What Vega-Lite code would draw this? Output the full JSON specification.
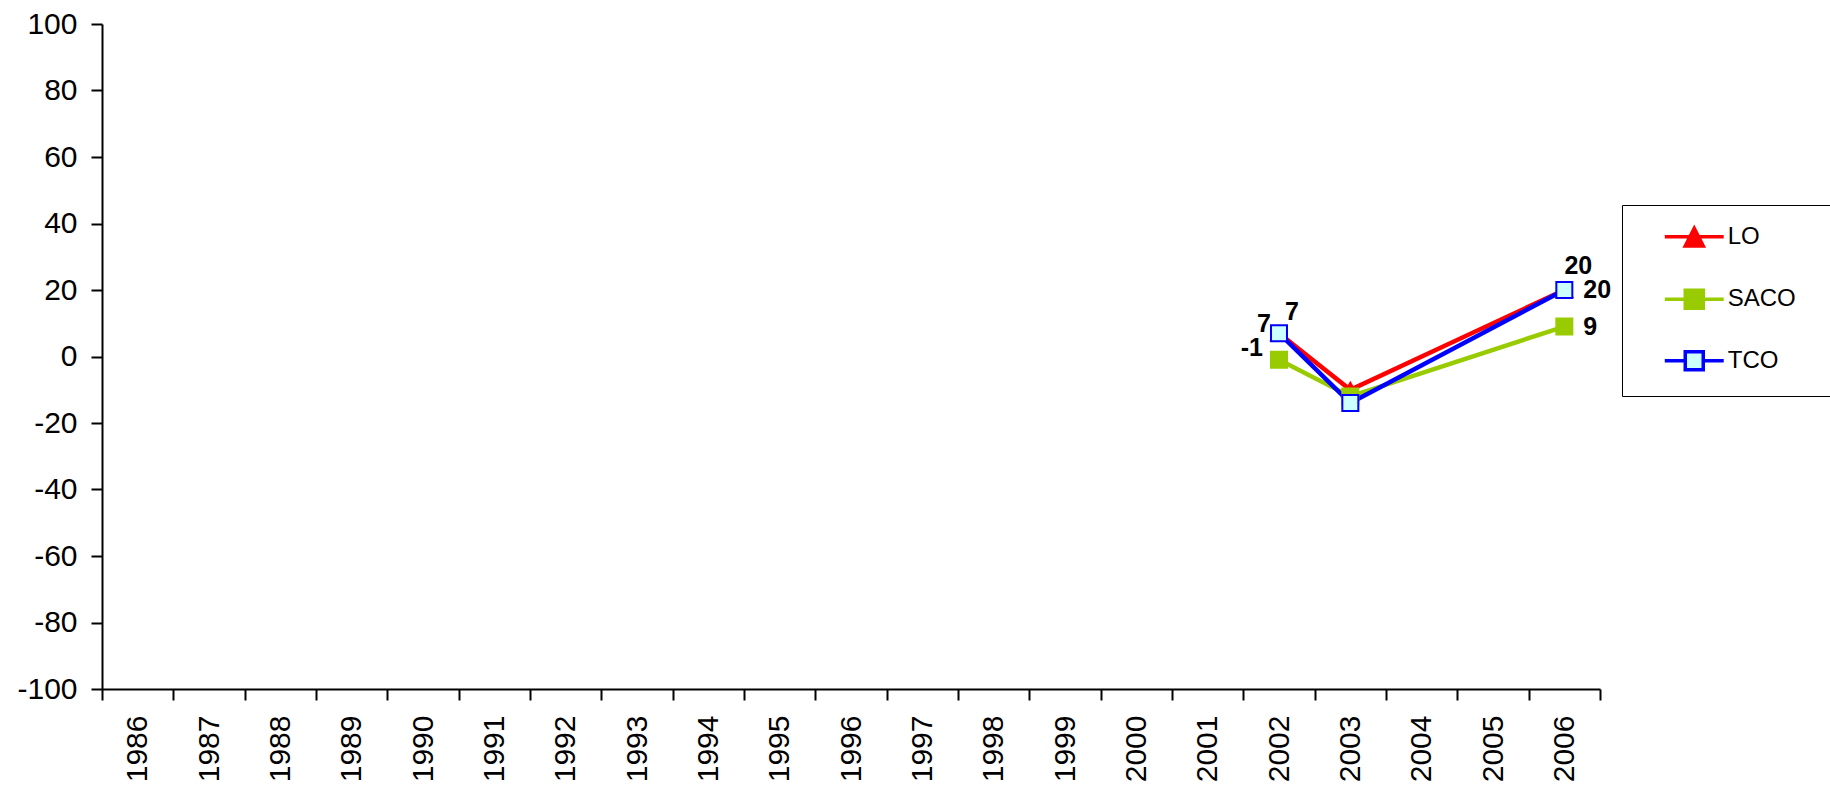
{
  "$schema": "https://vega.github.io/schema/vega-lite/v6.json",
  "width": 1498,
  "height": 665,
  "autosize": {"type": "none"},
  "padding": {"left": 102, "top": 24, "right": 230, "bottom": 100},
  "background": "white",
  "config": {
    "view": {"stroke": null},
    "font": "Liberation Sans",
    "axis": {
      "domainColor": "black", "domainWidth": 2, "tickColor": "black", "tickWidth": 2,
      "tickSize": 11, "labelFontSize": 30, "labelColor": "black", "labelFont": "Liberation Sans",
      "grid": false, "title": null
    }
  },
  "data": {"values": [
    {"year": 2002, "series": "LO", "value": 7},
    {"year": 2003, "series": "LO", "value": -10},
    {"year": 2006, "series": "LO", "value": 20},
    {"year": 2002, "series": "SACO", "value": -1},
    {"year": 2003, "series": "SACO", "value": -12},
    {"year": 2006, "series": "SACO", "value": 9},
    {"year": 2002, "series": "TCO", "value": 7},
    {"year": 2003, "series": "TCO", "value": -14},
    {"year": 2006, "series": "TCO", "value": 20}
  ]},
  "encoding": {
    "x": {"field": "year", "type": "ordinal",
      "scale": {"type": "band", "domain": [1986,1987,1988,1989,1990,1991,1992,1993,1994,1995,1996,1997,1998,1999,2000,2001,2002,2003,2004,2005,2006], "paddingInner": 0, "paddingOuter": 0},
      "axis": {"tickBand": "extent", "labelAngle": -90, "labelPadding": 15}},
    "y": {"field": "value", "type": "quantitative",
      "scale": {"domain": [-100, 100], "nice": false, "zero": false},
      "axis": {"values": [-100,-80,-60,-40,-20,0,20,40,60,80,100], "labelPadding": 14, "labelExpr": "'' + datum.value"}}
  },
  "layer": [
    {
      "mark": {"type": "line", "strokeWidth": 4.5},
      "encoding": {
        "color": {"field": "series", "type": "nominal",
          "scale": {"domain": ["LO", "SACO", "TCO"], "range": ["#FF0000", "#99CC00", "#0000FF"]},
          "legend": {
            "orient": "none", "legendX": 1520, "legendY": 181, "title": " ",
            "titleOrient": "right", "titlePadding": 70, "titleFontSize": 4,
            "symbolType": {"expr": "datum.value == 'LO' ? 'M-2.62,0H2.62M-0.8,0.83L0,-0.74L0.8,0.83Z' : datum.value == 'SACO' ? 'M-2.62,0H2.62M-0.8,-0.8H0.8V0.8H-0.8Z' : 'M-2.62,0H-0.8M0.8,0H2.62M-0.8,-0.8H0.8V0.8H-0.8Z'"},
            "symbolFillColor": {"expr": "datum.value == 'LO' ? '#FF0000' : datum.value == 'SACO' ? '#99CC00' : '#CCFFFF'"},
            "symbolSize": 506, "symbolStrokeWidth": 3.5, "symbolOffset": 40.5,
            "labelFontSize": 24, "labelOffset": 20.5, "labelColor": "black", "labelFont": "Liberation Sans",
            "rowPadding": 29.5, "padding": 18.75, "strokeColor": "black", "fillColor": "white"
          }}
      }
    },
    {
      "transform": [{"filter": "datum.series == 'LO'"}],
      "mark": {"type": "point", "shape": "triangle-up", "filled": true, "size": 256, "strokeWidth": 2, "opacity": 1, "fill": "#FF0000", "stroke": "#FF0000"}
    },
    {
      "transform": [{"filter": "datum.series == 'SACO'"}],
      "mark": {"type": "point", "shape": "square", "filled": true, "size": 256, "strokeWidth": 2, "opacity": 1, "fill": "#99CC00", "stroke": "#99CC00"}
    },
    {
      "transform": [{"filter": "datum.series == 'TCO'"}],
      "mark": {"type": "point", "shape": "square", "filled": true, "size": 256, "strokeWidth": 2, "opacity": 1, "fill": "#CCFFFF", "stroke": "#0000FF"}
    },
    {
      "transform": [{"filter": "datum.series == 'LO' && datum.year == 2002"}],
      "mark": {"type": "text", "font": "Liberation Sans", "fontWeight": "bold", "fontSize": 25, "color": "black", "align": "center", "baseline": "middle", "dx": -15, "dy": -9},
      "encoding": {"text": {"field": "value", "type": "nominal"}}
    },
    {
      "transform": [{"filter": "datum.series == 'TCO' && datum.year == 2002"}],
      "mark": {"type": "text", "font": "Liberation Sans", "fontWeight": "bold", "fontSize": 25, "color": "black", "align": "center", "baseline": "middle", "dx": 13, "dy": -21.5},
      "encoding": {"text": {"field": "value", "type": "nominal"}}
    },
    {
      "transform": [{"filter": "datum.series == 'SACO' && datum.year == 2002"}],
      "mark": {"type": "text", "font": "Liberation Sans", "fontWeight": "bold", "fontSize": 25, "color": "black", "align": "right", "baseline": "middle", "dx": -16, "dy": -11.5},
      "encoding": {"text": {"field": "value", "type": "nominal"}}
    },
    {
      "transform": [{"filter": "datum.series == 'LO' && datum.year == 2006"}],
      "mark": {"type": "text", "font": "Liberation Sans", "fontWeight": "bold", "fontSize": 25, "color": "black", "align": "center", "baseline": "middle", "dx": 14, "dy": -24},
      "encoding": {"text": {"field": "value", "type": "nominal"}}
    },
    {
      "transform": [{"filter": "datum.series != 'LO' && datum.year == 2006"}],
      "mark": {"type": "text", "font": "Liberation Sans", "fontWeight": "bold", "fontSize": 25, "color": "black", "align": "left", "baseline": "middle", "dx": 19, "dy": 0},
      "encoding": {"text": {"field": "value", "type": "nominal"}}
    }
  ]
}
